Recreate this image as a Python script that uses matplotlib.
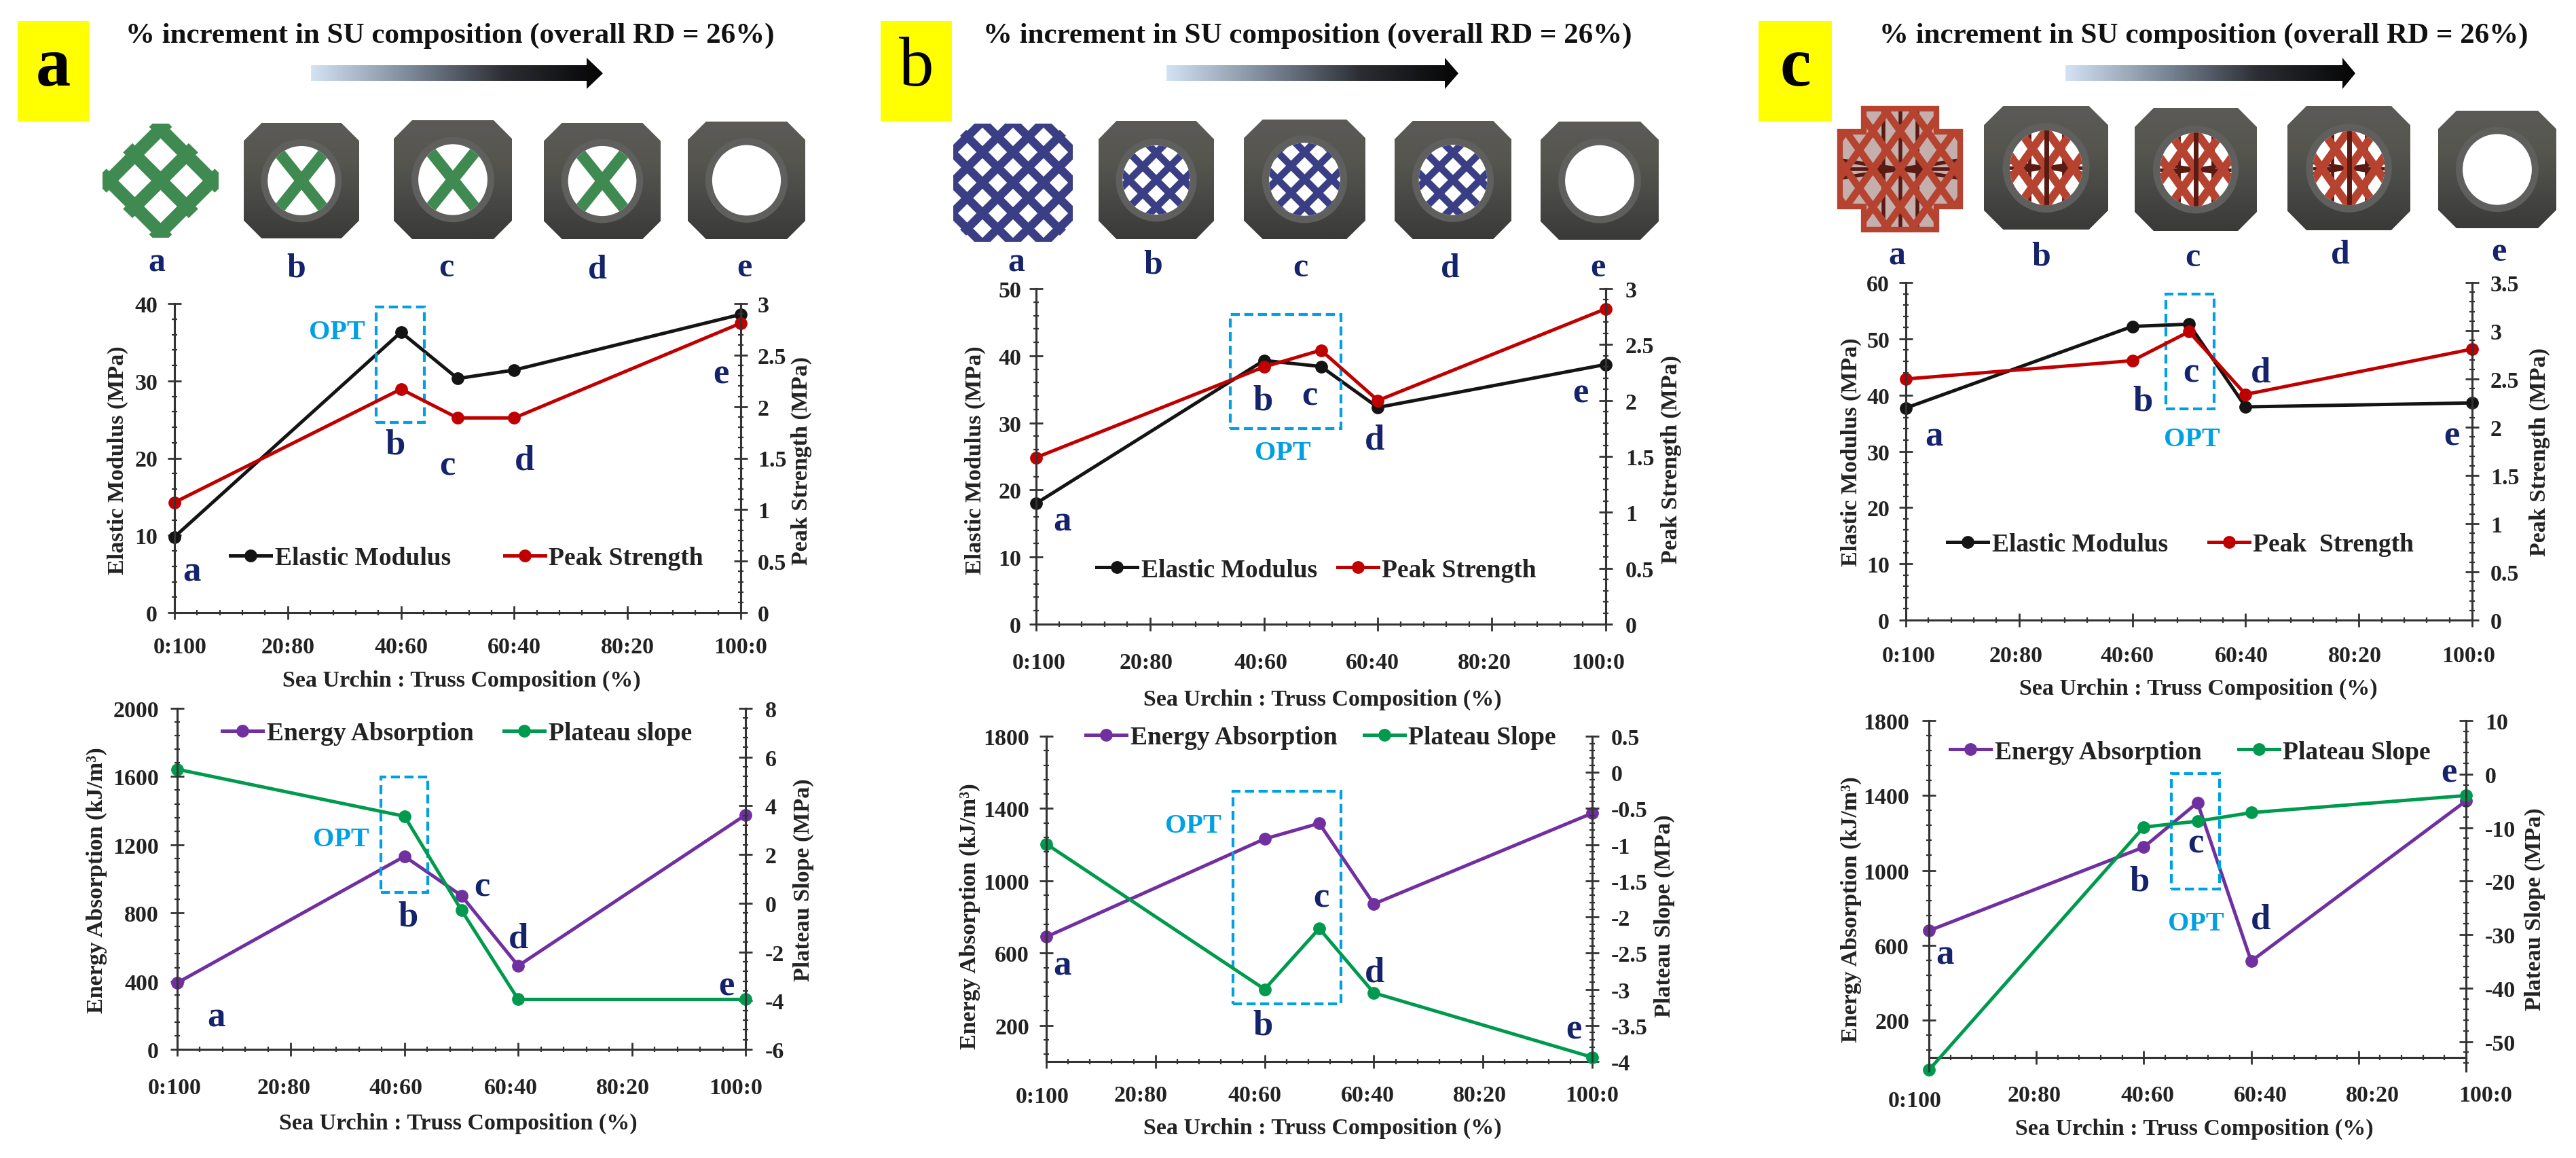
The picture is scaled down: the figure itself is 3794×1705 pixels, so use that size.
import numpy as np
import matplotlib
matplotlib.use("Agg")
import matplotlib.pyplot as plt
from matplotlib.patches import Rectangle, Polygon, Ellipse
from matplotlib.colors import LinearSegmentedColormap
from matplotlib.transforms import Affine2D

W, H = 3794, 1706
plt.rcParams['font.family'] = ['Liberation Serif', 'DejaVu Serif']
plt.rcParams['font.weight'] = 'bold'
plt.rcParams['axes.labelweight'] = 'bold'

# composition values, sea urchin share in %
comp = [0, 40, 50, 60, 100]
comp_ticks = [0, 20, 40, 60, 80, 100]
comp_labels = ['0:100', '20:80', '40:60', '60:40', '80:20', '100:0']
spec_letters = ['a', 'b', 'c', 'd', 'e']

modulus_a = [9.8, 36.3, 30.3, 31.4, 38.6]
strength_a = [1.07, 2.17, 1.89, 1.89, 2.81]
energy_a = [390, 1132, 902, 490, 1375]
slope_a = [5.5, 3.57, -0.28, -3.95, -3.95]

modulus_b = [18.0, 39.3, 38.4, 32.3, 38.7]
strength_b = [1.49, 2.30, 2.45, 2.0, 2.82]
energy_b = [690, 1232, 1318, 872, 1374]
slope_b = [-0.99, -3.0, -2.16, -3.05, -3.94]

modulus_c = [37.7, 52.2, 52.6, 37.9, 38.6]
strength_c = [2.50, 2.69, 2.99, 2.34, 2.81]
energy_c = [678, 1124, 1362, 515, 1371]
slope_c = [-55.3, -9.9, -8.8, -7.2, -4.0]

BLACK, RED, PURPLE, GREEN = '#141414', '#c00000', '#7030a0', '#009a4e'
NAVY = '#14236b'
CYAN = '#00a0e3'
AXC = '#333333'
TXT = '#222222'
LAT_GREEN, LAT_BLUE, LAT_RED, LAT_DARK = '#3f8a50', '#3a3f85', '#b5432f', '#5a1a14'

fig = plt.figure(figsize=(W / 100, H / 100), dpi=100, facecolor='white')
ov = fig.add_axes([0, 0, 1, 1])
ov.axis('off')


def px_lims():
    ov.set_xlim(0, W)
    ov.set_ylim(H, 0)


px_lims()
grad_arrow = LinearSegmentedColormap.from_list('arr', ['#d3e3f4', '#7d8a9a', '#2b2d33', '#050505'])
grad_body = LinearSegmentedColormap.from_list('body', ['#5b5a57', '#56564f', '#484846', '#3a3a38'])


def header(letter, box, title_x, ax0, ax1, ax2):
    ov.add_patch(Rectangle((box[0], 32), box[1] - box[0], 148, fc='#ffff00', ec='none'))
    ov.text(sum(box) / 2, 101, letter, fontsize=74, ha='center', va='center', color='black',
            weight='normal' if letter == 'b' else 'bold')
    ov.text(title_x, 53, '% increment in SU composition (overall RD = 26%)', fontsize=31,
            ha='center', va='center', color='#111111')
    im = ov.imshow(np.linspace(0, 1, 256).reshape(1, -1), extent=(ax0, ax2, 132, 86),
                   cmap=grad_arrow, aspect='auto', zorder=2)
    clip = Polygon([(ax0, 97), (ax1, 97), (ax1, 86), (ax2, 109), (ax1, 132), (ax1, 120), (ax0, 120)],
                   transform=ov.transData, fc='none', ec='none')
    ov.add_patch(clip)
    im.set_clip_path(clip)
    px_lims()


def struts(cx, cy, sp, n, lw, color, clip, slope=1.0):
    for k in range(-n, n + 1):
        for s in (1, -1):
            ln, = ov.plot([cx - 300, cx + 300], [cy + k * sp - s * 300 * slope, cy + k * sp + s * 300 * slope],
                          color=color, lw=lw, zorder=4, solid_capstyle='butt')
            ln.set_clip_path(clip)


def dark_red(cx, cy, w, clip):
    # dark inner struts of the octet cell
    for xy in ([(cx, cx), (cy - 200, cy + 200)], [(cx - 200, cx + 200), (cy, cy)],
               [(cx - 25, cx - 25), (cy - 200, cy + 200)], [(cx + 25, cx + 25), (cy - 200, cy + 200)],
               [(cx - 200, cx + 200), (cy - 30, cy + 30)], [(cx - 200, cx + 200), (cy + 30, cy - 30)]):
        ln, = ov.plot(xy[0], xy[1], color=LAT_DARK, lw=w, zorder=3.5)
        ln.set_clip_path(clip)


def octagon(x0, x1, y0, y1, c=0.155):
    dx, dy = (x1 - x0) * c, (y1 - y0) * c
    return [(x0 + dx, y0), (x1 - dx, y0), (x1, y0 + dy), (x1, y1 - dy), (x1 - dx, y1), (x0 + dx, y1),
            (x0, y1 - dy), (x0, y0 + dy)]


def icon(x0, x1, y0, y1, style):
    cx, cy = (x0 + x1) / 2, (y0 + y1) / 2
    w = x1 - x0
    im = ov.imshow(np.linspace(0, 1, 64).reshape(-1, 1), extent=(x0, x1, y1, y0), cmap=grad_body,
                   aspect='auto', zorder=2)
    clip = Polygon(octagon(x0, x1, y0, y1), fc='none', ec='none')
    ov.add_patch(clip)
    im.set_clip_path(clip)
    ov.add_patch(Ellipse((cx, cy), w * 0.70, w * 0.72, fc='#5f605e', ec='none', zorder=2.5))
    hole = Ellipse((cx, cy), w * 0.585, w * 0.6, fc='white', ec='none', zorder=3)
    ov.add_patch(hole)
    if style == 'green':
        struts(cx, cy, 0, 0, 12, LAT_GREEN, hole, slope=1.25)
    elif style == 'blue':
        struts(cx, cy, 40, 3, 7.5, LAT_BLUE, hole)
    elif style == 'red':
        dark_red(cx, cy, 3.5, hole)
        struts(cx, cy, 56, 2, 8.5, LAT_RED, hole, slope=1.4)
        ln, = ov.plot([cx, cx], [cy - 60, cy + 60], color=LAT_DARK, lw=5, zorder=4.5)
        ln.set_clip_path(hole)
    px_lims()


def lattice_only(x0, x1, y0, y1, style):
    cx, cy = (x0 + x1) / 2, (y0 + y1) / 2
    w, h = x1 - x0, y1 - y0
    if style == 'green':
        hull = Polygon([(cx - 12, y0), (cx + 12, y0), (x1, cy - 12), (x1, cy + 12), (cx + 12, y1), (cx - 12, y1),
                        (x0, cy + 12), (x0, cy - 12)], fc='none', ec='none')
        ov.add_patch(hull)
        struts(cx, cy, 76, 1, 14, LAT_GREEN, hull)
    elif style == 'blue':
        hull = Polygon(octagon(x0, x1, y0, y1, 0.16), fc='none', ec='none')
        ov.add_patch(hull)
        struts(cx, cy, 45, 5, 9, LAT_BLUE, hull)
    else:
        a, b = 0.2 * w, 0.19 * h
        pts = [(x0 + a, y0), (x1 - a, y0), (x1 - a, y0 + b), (x1, y0 + b), (x1, y1 - b), (x1 - a, y1 - b),
               (x1 - a, y1), (x0 + a, y1), (x0 + a, y1 - b), (x0, y1 - b), (x0, y0 + b), (x0 + a, y0 + b)]
        hull = Polygon(pts, fc=LAT_DARK, alpha=0.35, ec='none', zorder=3)
        ov.add_patch(hull)
        dark_red(cx, cy, 4, hull)
        struts(cx, cy, 56, 4, 7.5, LAT_RED, hull, slope=1.4)
        ov.add_patch(Polygon(pts, fc='none', ec=LAT_RED, lw=6, zorder=5))
    px_lims()


def spec_row(boxes, label_pos, style):
    lattice_only(*boxes[0], style)
    for b in boxes[1:4]:
        icon(*b, style)
    icon(*boxes[4], None)
    for t, (x, y) in zip(spec_letters, label_pos):
        ov.text(x, y, t, fontsize=36, color=NAVY, ha='center', va='center')


def chart(rect, y1, y2, x_vals, names, colors, ylabels, left, right, left_minor, right_minor,
          lab_pos, gaps, x_dy, x_shift, box, opt_xy, letters, legend):
    x0, x1, ytop, ybot = rect
    ax = fig.add_axes([x0 / W, 1 - ybot / H, (x1 - x0) / W, (ybot - ytop) / H])
    ax.patch.set_visible(False)
    ax2 = ax.twinx()
    ax2.patch.set_visible(False)
    ax.set_xlim(0, 100)
    ax.set_ylim(left[0], left[1])
    ax2.set_ylim(right[0], right[1])
    # moving the spine resets ticks, so it goes first
    ax.spines['bottom'].set_position(('data', 0))
    ax2.spines['bottom'].set_visible(False)

    l1, = ax.plot(x_vals, y1, color=colors[0], lw=3.6, marker='o', ms=12.5, clip_on=False, label=names[0])
    l2, = ax2.plot(x_vals, y2, color=colors[1], lw=3.6, marker='o', ms=12.5, clip_on=False, label=names[1])

    ax.set_xticks(comp_ticks)
    ax.set_xticks(np.arange(0, 101, 4), minor=True)
    ax.set_xticklabels(comp_labels, fontsize=24.5, color=TXT)
    ax.set_yticks(left[2])
    ax.set_yticks(left_minor, minor=True)
    ax.set_yticklabels([f'{v:g}' for v in left[2]], fontsize=24.5, color=TXT)
    ax2.set_yticks(right[2])
    ax2.set_yticks(right_minor, minor=True)
    ax2.set_yticklabels([f'{v:g}' for v in right[2]], fontsize=24.5, color=TXT)

    for a in (ax, ax2):
        a.spines['top'].set_visible(False)
        for s in a.spines.values():
            s.set_color(AXC)
            s.set_linewidth(2.2)
        a.tick_params(which='major', direction='inout', length=15, width=2, color=AXC)
        a.tick_params(which='minor', direction='inout', length=6, width=1.6, color=AXC)
    ax.tick_params(axis='y', which='major', pad=(gaps[0] - 10.5) * 0.72)
    ax2.tick_params(axis='y', which='major', pad=(gaps[1] - 10.5) * 0.72)
    ax.tick_params(axis='x', which='major', pad=(x_dy - 22.5) * 0.72)
    for lbl, dx in zip(ax.get_xticklabels(), x_shift):
        lbl.set_transform(lbl.get_transform() + Affine2D().translate(dx[0], -dx[1]))

    ax.set_xlabel('Sea Urchin : Truss Composition (%)', fontsize=24.5, color=TXT, va='center', ha='center')
    ax.xaxis.set_label_coords(lab_pos[2], lab_pos[3], transform=ov.transData)
    ax.set_ylabel(ylabels[0], fontsize=24.5, color=TXT, va='center', ha='center')
    ax.yaxis.set_label_coords(lab_pos[0], lab_pos[1], transform=ov.transData)
    ax2.set_ylabel(ylabels[1], fontsize=24.5, color=TXT, va='center', ha='center', rotation=90)
    ax2.yaxis.set_label_coords(lab_pos[4], lab_pos[5], transform=ov.transData)

    ax.add_patch(Rectangle((box[0], box[2]), box[1] - box[0], box[3] - box[2], fc='none', ec=CYAN, lw=3,
                           ls=(0, (3.2, 1.6)), zorder=5))
    ov.text(opt_xy[0], opt_xy[1], 'OPT', fontsize=29, color=CYAN, ha='center', va='center')
    for t, (x, y) in zip(spec_letters, letters):
        ov.text(x, y, t, fontsize=38, color=NAVY, ha='center', va='center')

    ax2.legend(handles=[l1, l2], loc='center left', bbox_to_anchor=(legend[0], legend[1]),
               bbox_transform=ov.transData, ncol=2, frameon=False, fontsize=27, borderpad=0, borderaxespad=0,
               handlelength=1.6, handletextpad=0.15, columnspacing=legend[2], labelcolor=TXT)


# headers and specimen pictures
header('a', (26, 131), 663, 458, 864, 888)
header('b', (1297, 1402), 1926, 1718, 2128, 2148)
header('c', (2590, 2698), 3246, 3042, 3450, 3469)

spec_row([(151, 322, 183, 351), (359, 529, 182, 352), (580, 754, 178, 353), (801, 973, 182, 353), (1013, 1186, 180, 353)],
         [(231, 387), (436, 395), (657, 395), (880, 397), (1096, 395)], 'green')
spec_row([(1404, 1580, 183, 357), (1618, 1788, 179, 353), (1832, 2011, 177, 353), (2054, 2226, 179, 353), (2269, 2443, 180, 354)],
         [(1497, 387), (1698, 390), (1915, 395), (2136, 395), (2353, 395)], 'blue')
spec_row([(2710, 2887, 161, 339), (2922, 3105, 157, 339), (3144, 3324, 160, 341), (3369, 3550, 157, 340), (3591, 3765, 164, 337)],
         [(2794, 377), (3006, 378), (3229, 380), (3447, 375), (3680, 372)], 'red')

top_names = ['Elastic Modulus', 'Peak Strength']
top_units = ['Elastic Modulus (MPa)', 'Peak Strength (MPa)']
low_units = ['Energy Absorption (kJ/m³)', 'Plateau Slope (MPa)']
top_cols = [BLACK, RED]
low_cols = [PURPLE, GREEN]
half = list(np.arange(0, 3.01, 0.5))

chart((257, 1091, 448, 903), modulus_a, strength_a, comp, top_names, top_cols, top_units,
      (0, 40, [0, 10, 20, 30, 40]), (0, 3, half), np.arange(0, 40.1, 2), np.arange(0, 3.01, 0.1),
      (173, 678, 680, 1002, 1180, 678), (25, 25), 47,
      [(8, 0), (0, 0), (0, 0), (0, 0), (0, 0), (0, 0)],
      (35.6, 44.1, 24.6, 39.6), (496, 489),
      [(282, 842), (582, 655), (659, 686), (773, 678), (1062, 551)], (339, 823, 2.1))

chart((261, 1098, 1044, 1546), energy_a, slope_a, comp, ['Energy Absorption', 'Plateau slope'], low_cols, low_units,
      (0, 2000, [0, 400, 800, 1200, 1600, 2000]), (-6, 8, [-6, -4, -2, 0, 2, 4, 6, 8]),
      np.arange(0, 2001, 80), np.arange(-6, 8.01, 0.4),
      (142, 1296, 675, 1654, 1183, 1296), (27, 29), 53,
      [(-4, 0), (-10, 0), (-13, 0), (-11, 0), (-13, 0), (-14, 0)],
      (35.8, 44.1, 919, 1598), (502, 1237),
      [(318, 1498), (601, 1351), (710, 1307), (764, 1383), (1070, 1452)], (327, 1081, 1.2))

chart((1526, 2365, 426, 920), modulus_b, strength_b, comp, top_names, top_cols, top_units,
      (0, 50, [0, 10, 20, 30, 40, 50]), (0, 3, half), np.arange(0, 50.1, 2), np.arange(0, 3.01, 0.1),
      (1436, 678, 1948, 1030, 2461, 676), (22, 29), 53,
      [(4, 0), (-6, 0), (-5, 0), (-8, 0), (-11, 0), (-11, 0)],
      (34.1, 53.5, 29.2, 46.2), (1889, 667),
      [(1564, 769), (1860, 590), (1929, 583), (2025, 648), (2328, 579)], (1615, 840, 0.8))

chart((1541, 2345, 1085, 1564), energy_b, slope_b, comp, ['Energy Absorption', 'Plateau Slope'], low_cols, low_units,
      (0, 1800, [200, 600, 1000, 1400, 1800]), (-4, 0.5, list(np.arange(-4, 0.51, 0.5))),
      np.arange(40, 1801, 80), np.arange(-4, 0.51, 0.1),
      (1428, 1349, 1948, 1661, 2451, 1349), (25, 28), 46,
      [(-6, 2), (-22, 0), (-15, 0), (-9, 0), (-5, 0), (0, 0)],
      (34.2, 54.0, 321, 1494), (1757, 1216),
      [(1564, 1422), (1860, 1511), (1946, 1323), (2025, 1433), (2318, 1516)], (1599, 1087, 1.05))

chart((2807, 3641, 417, 914), modulus_c, strength_c, comp, ['Elastic Modulus', 'Peak  Strength'], top_cols, top_units,
      (0, 60, [0, 10, 20, 30, 40, 50, 60]), (0, 3.5, list(np.arange(0, 3.51, 0.5))),
      np.arange(0, 60.1, 2), np.arange(0, 3.51, 0.1),
      (2726, 666, 3238, 1014, 3740, 665), (24, 27), 49,
      [(4, 0), (-5, 0), (-8, 0), (-6, 0), (-6, 0), (-5, 0)],
      (45.9, 54.4, 37.5, 58), (3228, 647),
      [(2848, 643), (3156, 591), (3227, 549), (3330, 549), (3611, 642)], (2868, 803, 1.6))

chart((2841, 3632, 1062, 1578), energy_c, slope_c, comp, ['Energy Absorption', 'Plateau Slope'], low_cols, low_units,
      (-72, 1800, [200, 600, 1000, 1400, 1800]), (-55.5, 10, [-50, -40, -30, -20, -10, 0, 10]),
      np.arange(40, 1801, 80), np.arange(-54, 10.1, 2),
      (2726, 1339, 3232, 1662, 3733, 1339), (29, 28), 52,
      [(-21, 8), (-3, 0), (6, 0), (14, 0), (21, 0), (29, 0)],
      (45.1, 54.1, 900, 1517), (3234, 1360),
      [(2864, 1407), (3151, 1299), (3234, 1243), (3330, 1355), (3607, 1139)], (2872, 1108, 1.45))

fig.savefig('out.png', dpi=100, facecolor='white')
